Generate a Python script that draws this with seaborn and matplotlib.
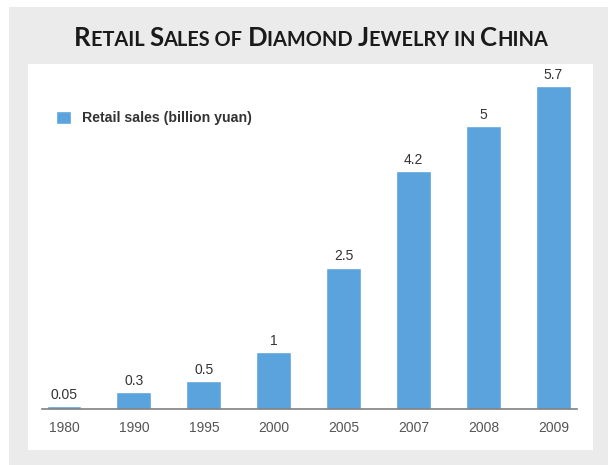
import matplotlib
matplotlib.use("Agg")
import matplotlib.pyplot as plt
import seaborn as sns
import pandas as pd
from matplotlib.patches import Rectangle

# ---- data ----
years = ["1980", "1990", "1995", "2000", "2005", "2007", "2008", "2009"]
sales = [0.05, 0.3, 0.5, 1, 2.5, 4.2, 5, 5.7]
value_labels = ["0.05", "0.3", "0.5", "1", "2.5", "4.2", "5", "5.7"]
series_name = "Retail sales (billion yuan)"
title_text = "Retail Sales of Diamond Jewelry in China"

sns.set_theme(style="white")
plt.rcParams['font.family'] = ['Liberation Sans', 'DejaVu Sans']

W, H = 608, 465
fig = plt.figure(figsize=(6.08, 4.65), dpi=100, facecolor='white')


def rect_px(x0, y0, x1, y1):
    return (x0 / W, 1 - y1 / H, (x1 - x0) / W, (y1 - y0) / H)


gx, gy, gw, gh = rect_px(9, 7, 608, 465)
fig.patches.append(Rectangle((gx, gy), gw, gh, transform=fig.transFigure,
                             facecolor='#ebebeb', edgecolor='none', zorder=-3))
wx, wy, ww, wh = rect_px(28, 64, 593, 450)
fig.patches.append(Rectangle((wx, wy), ww, wh, transform=fig.transFigure,
                             facecolor='white', edgecolor='none', zorder=-2))

ax = fig.add_axes(rect_px(42, 70, 577, 409))
ax.set_zorder(1)
ax.patch.set_alpha(0)

df = pd.DataFrame({"year": years, "sales": sales})
sns.barplot(data=df, x="year", y="sales", color="#5aa3dc", width=0.5,
            saturation=1, ax=ax, label=series_name)

for bar, lab in zip(ax.patches, value_labels):
    ax.annotate(lab, (bar.get_x() + bar.get_width() / 2, bar.get_height()),
                xytext=(0, 3), textcoords='offset points', ha='center',
                va='bottom', fontsize=10, color='#333333')

ax.set_ylim(0, 5.99)
ax.set_xlim(-0.315, 7.339)
ax.set_yticks([])
ax.set_xlabel("")
ax.set_ylabel("")
for s in ['left', 'right', 'top']:
    ax.spines[s].set_visible(False)
ax.spines['bottom'].set_color('#808080')
ax.spines['bottom'].set_linewidth(1.2)
ax.tick_params(axis='x', length=0, pad=9, labelsize=10, labelcolor='#555555')

leg = ax.legend(loc='upper left', bbox_to_anchor=(56 / W, 1 - 111 / H),
                bbox_transform=fig.transFigure, frameon=False,
                prop=dict(weight='bold', size=10.2), handlelength=1.05,
                handleheight=1.05, handletextpad=0.75, borderpad=0,
                borderaxespad=0)
for t in leg.get_texts():
    t.set_color('#333333')

# ---- small-caps title ----
segs = []
for ch in title_text:
    big = ch.isupper()
    if segs and segs[-1][1] == big:
        segs[-1][0] += ch.upper()
    else:
        segs.append([ch.upper(), big])

base_y = 1 - 46 / H
texts = []
for s, big in segs:
    t = fig.text(0, base_y, s, fontsize=18.5 if big else 14.4, fontweight='bold',
                 color='#1a1a1a', ha='left', va='baseline',
                 family=['Lato', 'DejaVu Sans'])
    texts.append(t)
fig.canvas.draw()
r = fig.canvas.get_renderer()
widths = [t.get_window_extent(r).width / W for t in texts]
total = sum(widths)
x = 311 / W - total / 2
for t, w in zip(texts, widths):
    t.set_x(x)
    x += w

fig.savefig("out.png", dpi=100, facecolor='white')
